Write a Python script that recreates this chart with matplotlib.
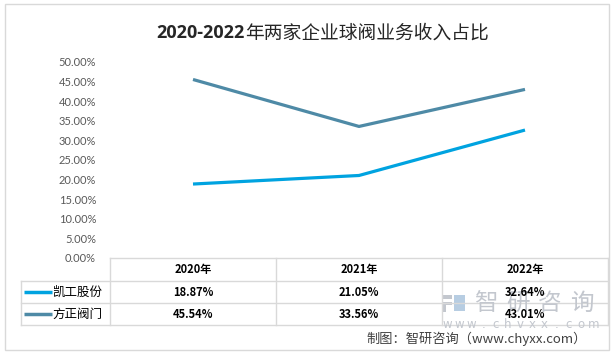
import matplotlib
matplotlib.use("Agg")
import matplotlib.pyplot as plt
from matplotlib.patches import Rectangle

plt.rcParams['font.family'] = ['Noto Sans CJK SC', 'DejaVu Sans']

years = ["2020年", "2021年", "2022年"]
companies = ["凯工股份", "方正阀门"]
kaigong = [18.87, 21.05, 32.64]
fangzheng = [45.54, 33.56, 43.01]
series = [kaigong, fangzheng]
colors = ["#00A3E0", "#4E8AA6"]
yticks = [0, 5, 10, 15, 20, 25, 30, 35, 40, 45, 50]

W, H = 613, 354
fig = plt.figure(figsize=(W / 100, H / 100), dpi=100)

# overlay in pixel units for border, table and footer
ov = fig.add_axes([0, 0, 1, 1])
ov.set_xlim(0, W)
ov.set_ylim(H, 0)
ov.axis("off")
ov.add_patch(Rectangle((4.5, 3.5), 604, 346, fill=False, ec="#D9D9D9", lw=1))

# plot area
left, right, top, bottom = 110, 608, 62, 258
ax = fig.add_axes([left / W, 1 - bottom / H, (right - left) / W, (bottom - top) / H])
x = range(len(years))
for vals, c in zip(series, colors):
    ax.plot(x, vals, color=c, lw=2.3, solid_capstyle="butt")
ax.set_xlim(-0.5, len(years) - 0.5)
ax.set_ylim(0, 50)
ax.set_yticks(yticks)
ax.set_yticklabels([f"{v:.2f}%" for v in yticks], fontsize=8, color="#595959",
                   family=["Lato"])
ax.tick_params(axis="y", length=0, pad=10)
ax.set_xticks([])
for s in ax.spines.values():
    s.set_visible(False)
ax.patch.set_alpha(0)

# title: bold digits, regular CJK part
split_x = 245
ov.text(split_x, 33, "2020-2022", ha="right", va="center", fontsize=13,
        fontweight="bold", color="#262626", family=["Open Sans", "DejaVu Sans"])
ov.text(split_x, 33, "年两家企业球阀业务收入占比", ha="left", va="center",
        fontsize=13.5, color="#262626")

# data table
grid = "#D9D9D9"
row_y = [258, 281, 303, 325]
col_w = (right - left) / len(years)
label_left = 21
ov.plot([left, right], [row_y[0], row_y[0]], color=grid, lw=1)
for yy in row_y[1:]:
    ov.plot([label_left, right], [yy, yy], color=grid, lw=1)
ov.plot([label_left, label_left], [row_y[1], row_y[-1]], color=grid, lw=1)
for i in range(len(years) + 1):
    xx = left + i * col_w
    ov.plot([xx, xx], [row_y[0], row_y[-1]], color=grid, lw=1)

# watermark (under the table text)
wm = "#C3C7CE"
ov.add_patch(Rectangle((442, 295), 10, 3.5, color=wm, lw=0))
ov.add_patch(Rectangle((442, 301.5), 10, 3.5, color=wm, lw=0))
ov.add_patch(Rectangle((442, 305), 3.5, 7, color=wm, lw=0))
ov.add_patch(Rectangle((454, 295), 11, 16, color="#B7CDE2", lw=0))
for k, ch in enumerate("智研咨询"):
    ov.text(486 + k * 32, 303, ch, ha="center", va="center", fontsize=17, color=wm)
for k, ch in enumerate("www.chvxx.com"):
    ov.text(447 + k * 12.2, 325, ch, ha="center", va="center", fontsize=8.5,
            color=wm, family=["DejaVu Sans"])

for i, yr in enumerate(years):
    ov.text(left + (i + 0.5) * col_w, (row_y[0] + row_y[1]) / 2, yr, ha="center",
            va="center", fontsize=8, fontweight="bold", color="#000000")
for r, (name, vals, c) in enumerate(zip(companies, series, colors)):
    yc = (row_y[r + 1] + row_y[r + 2]) / 2
    ov.plot([24, 52], [yc, yc], color=c, lw=2.5, solid_capstyle="butt")
    ov.text(52, yc, name, ha="left", va="center", fontsize=9, color="#000000")
    for i, v in enumerate(vals):
        ov.text(left + (i + 0.5) * col_w, yc, f"{v:.2f}%", ha="center", va="center",
                fontsize=8, fontweight="bold", color="#000000")

ov.text(366, 339, "制图：智研咨询（www.chyxx.com）", ha="left", va="center",
        fontsize=9.5, color="#404040")

fig.savefig("out.png", dpi=100)
